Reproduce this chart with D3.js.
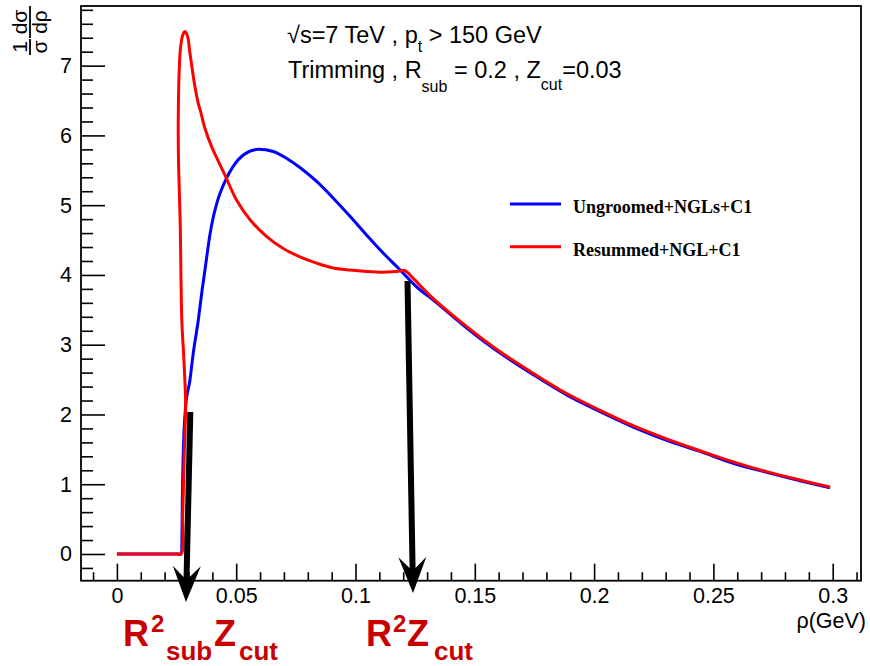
<!DOCTYPE html>
<html><head><meta charset="utf-8">
<script src="https://cdn.jsdelivr.net/npm/d3@7/dist/d3.min.js"></script>
<style>body{margin:0;background:#fff}svg{display:block}</style>
</head><body>
<script>
// ---- data ----
const blueRho = [0, 0.01, 0.02, 0.025, 0.0269, 0.0272, 0.0274, 0.0278, 0.0288, 0.0306, 0.0320, 0.0341, 0.0357, 0.0369, 0.0390, 0.0404, 0.0418, 0.0457, 0.0488, 0.0530, 0.0593, 0.0655, 0.0712, 0.0767, 0.0837, 0.0907, 0.0977, 0.1047, 0.1117, 0.1187, 0.1215, 0.1256, 0.1326, 0.1466, 0.1606, 0.1745, 0.1885, 0.2025, 0.2164, 0.2304, 0.2444, 0.2583, 0.2723, 0.2863, 0.2989];
const blueVal = [0, 0, 0, 0, 0, 0.06, 0.73, 1.44, 2.11, 2.49, 2.88, 3.35, 3.78, 4.07, 4.58, 4.83, 5.02, 5.37, 5.56, 5.72, 5.80, 5.77, 5.67, 5.54, 5.34, 5.10, 4.84, 4.57, 4.31, 4.07, 3.97, 3.83, 3.64, 3.24, 2.88, 2.57, 2.28, 2.04, 1.82, 1.63, 1.47, 1.30, 1.17, 1.05, 0.95];
const redRho = [0, 0.01, 0.02, 0.025, 0.0269, 0.0276, 0.0282, 0.0288, 0.0286, 0.0279, 0.0272, 0.0265, 0.0259, 0.0257, 0.0258, 0.0261, 0.0267, 0.0276, 0.0285, 0.0296, 0.0306, 0.0327, 0.0341, 0.0351, 0.0369, 0.0397, 0.0425, 0.0453, 0.0502, 0.0558, 0.0628, 0.0697, 0.0767, 0.0837, 0.0907, 0.0977, 0.1047, 0.1117, 0.1173, 0.1207, 0.1242, 0.1326, 0.1466, 0.1606, 0.1745, 0.1885, 0.2025, 0.2164, 0.2304, 0.2444, 0.2583, 0.2723, 0.2863, 0.2989];
const redVal = [0, 0, 0, 0, 0, 0.6, 1.4, 2.11, 2.4, 2.9, 3.35, 4.79, 5.50, 6.00, 6.50, 6.93, 7.27, 7.44, 7.49, 7.42, 7.18, 6.70, 6.46, 6.34, 6.10, 5.84, 5.63, 5.43, 5.07, 4.79, 4.55, 4.38, 4.26, 4.17, 4.10, 4.07, 4.05, 4.04, 4.05, 4.06, 3.95, 3.66, 3.26, 2.90, 2.59, 2.30, 2.06, 1.84, 1.65, 1.48, 1.32, 1.18, 1.06, 0.96];
const seriesNames = ["Ungroomed+NGLs+C1", "Resummed+NGL+C1"];
const seriesColors = ["#0000ff", "#ff0000"];
const xMajorTicks = [0, 0.05, 0.1, 0.15, 0.2, 0.25, 0.3];
const xTickLabels = ["0", "0.05", "0.1", "0.15", "0.2", "0.25", "0.3"];
const yMajorTicks = [0, 1, 2, 3, 4, 5, 6, 7];
const yTickLabels = ["0", "1", "2", "3", "4", "5", "6", "7"];
const arrowFromRho = [0.03076, 0.12179];
const arrowFromVal = [2.036, 3.913];
const arrowToRho = [0.02896, 0.12410];
const arrowToVal = [-0.688, -0.559];

// ---- layout ----
const W = 870, H = 666;
const L = 81, R = 861, T = 6, B = 580.7;
const svg = d3.select("body").append("svg").attr("width", W).attr("height", H)
  .style("font-family", "'Liberation Sans', Arial, sans-serif");

const x = d3.scaleLinear().domain([-0.01505, 0.31186]).range([L, R]);
const y = d3.scaleLinear().domain([-0.3828, 7.855]).range([B, T]);

// minor ticks
const xMinor = d3.range(-1, 32).map(i => i / 100).filter(v => Math.abs(Math.round(v * 20) - v * 20) > 1e-6 && v > -0.015 && v < 0.3118);
const yMinor = d3.range(-1, 40).map(i => i / 5).filter(v => Math.abs(Math.round(v) - v) > 1e-6 && v > -0.38 && v < 7.85);

function styleAxis(g) {
  g.select(".domain").remove();
  g.selectAll("line").attr("stroke", "#000").attr("stroke-width", 1.6);
}
svg.append("g").attr("transform", `translate(0,${B})`)
  .call(d3.axisBottom(x).tickValues(xMinor).tickSize(-8.5).tickFormat(""))
  .call(styleAxis);
const gx = svg.append("g").attr("transform", `translate(0,${B})`)
  .call(d3.axisBottom(x).tickValues(xMajorTicks).tickSize(-17).tickPadding(7)
    .tickFormat((d, i) => xTickLabels[i]))
  .call(styleAxis);
gx.selectAll("text").attr("font-size", 21.5).attr("fill", "#000")
  .attr("font-family", "'Liberation Sans', Arial, sans-serif");

svg.append("g").attr("transform", `translate(${L},0)`)
  .call(d3.axisLeft(y).tickValues(yMinor).tickSize(-12).tickFormat(""))
  .call(styleAxis);
const gy = svg.append("g").attr("transform", `translate(${L},0)`)
  .call(d3.axisLeft(y).tickValues(yMajorTicks).tickSize(-24).tickPadding(9)
    .tickFormat((d, i) => yTickLabels[i]))
  .call(styleAxis);
gy.selectAll("text").attr("font-size", 21.5).attr("fill", "#000")
  .attr("font-family", "'Liberation Sans', Arial, sans-serif");

// frame
svg.append("rect").attr("x", L).attr("y", T).attr("width", R - L).attr("height", B - T)
  .attr("fill", "none").attr("stroke", "#000").attr("stroke-width", 1.8);

// curves
const blueLine = d3.line().x(d => x(d[0])).y(d => y(d[1])).curve(d3.curveMonotoneX);
const redLine = d3.line().x(d => x(d[0])).y(d => y(d[1])).curve(d3.curveCatmullRom.alpha(0.5));
const blueData = blueRho.map((r, i) => [r, blueVal[i]]);
const redData = redRho.map((r, i) => [r, redVal[i]]);
svg.append("path").attr("d", blueLine(blueData)).attr("fill", "none")
  .attr("stroke", seriesColors[0]).attr("stroke-width", 3).attr("stroke-linejoin", "round");
svg.append("path").attr("d", redLine(redData)).attr("fill", "none")
  .attr("stroke", seriesColors[1]).attr("stroke-width", 3).attr("stroke-linejoin", "round");

// legend
const legY = [204, 246.7], legBase = [213, 256];
seriesNames.forEach((n, i) => {
  svg.append("line").attr("x1", 510).attr("x2", 561).attr("y1", legY[i]).attr("y2", legY[i])
    .attr("stroke", seriesColors[i]).attr("stroke-width", 3);
  svg.append("text").attr("x", 573).attr("y", legBase[i]).text(n)
    .attr("font-family", "'Liberation Serif', 'Times New Roman', serif")
    .attr("font-weight", "bold").attr("font-size", 18).attr("fill", "#000");
});

// top annotation text
const t1 = svg.append("text").attr("x", 287).attr("y", 43).attr("font-size", 23.5).attr("fill", "#000");
t1.append("tspan").text("√s=7 TeV , p");
t1.append("tspan").attr("font-size", 16).attr("dy", 9).text("t");
t1.append("tspan").attr("dy", -9).text(" > 150 GeV");
const t2 = svg.append("text").attr("x", 288).attr("y", 78).attr("font-size", 23.5).attr("fill", "#000");
t2.append("tspan").text("Trimming , R");
t2.append("tspan").attr("font-size", 16).attr("dy", 14).text("sub");
t2.append("tspan").attr("dy", -14).text(" = 0.2 , Z");
t2.append("tspan").attr("font-size", 16).attr("dy", 12).text("cut");
t2.append("tspan").attr("dy", -12).text("=0.03");

// axis titles
svg.append("text").attr("x", 866).attr("y", 628).attr("text-anchor", "end")
  .attr("font-size", 21.5).attr("fill", "#000").text("ρ(GeV)");
const yt = svg.append("g").attr("transform", "rotate(-90)");
const ytFs = 21;
yt.append("text").attr("x", -47).attr("y", 27).attr("text-anchor", "middle").attr("font-size", ytFs).text("1");
yt.append("text").attr("x", -47).attr("y", 47).attr("text-anchor", "middle").attr("font-size", ytFs).text("σ");
yt.append("line").attr("x1", -55).attr("x2", -39).attr("y1", 30).attr("y2", 30).attr("stroke", "#000").attr("stroke-width", 1.8);
yt.append("text").attr("x", -22).attr("y", 27).attr("text-anchor", "middle").attr("font-size", ytFs).text("dσ");
yt.append("text").attr("x", -22).attr("y", 47).attr("text-anchor", "middle").attr("font-size", ytFs).text("dρ");
yt.append("line").attr("x1", -38).attr("x2", -6).attr("y1", 30).attr("y2", 30).attr("stroke", "#000").attr("stroke-width", 1.8);

// arrows
arrowFromRho.forEach((r, i) => {
  const x0 = x(r), y0 = y(arrowFromVal[i]), x1 = x(arrowToRho[i]), y1 = y(arrowToVal[i]);
  const dx = x1 - x0, dy = y1 - y0, len = Math.hypot(dx, dy);
  const ux = dx / len, uy = dy / len, px = -uy, py = ux;
  const hl = 36, hw = 14, notch = 22;
  const bx = x1 - ux * hl, by = y1 - uy * hl;
  const nx = x1 - ux * notch, ny = y1 - uy * notch;
  svg.append("line").attr("x1", x0).attr("y1", y0).attr("x2", nx).attr("y2", ny)
    .attr("stroke", "#000").attr("stroke-width", 6);
  svg.append("path").attr("d", `M${x1},${y1}L${bx + px * hw},${by + py * hw}L${nx},${ny}L${bx - px * hw},${by - py * hw}Z`)
    .attr("fill", "#000");
});

// R^2 labels
const red = "#c80000";
function lab(parts) {
  const t = svg.append("text").attr("font-weight", "bold").attr("fill", red);
  parts.forEach(p => t.append("tspan").attr("x", p[0]).attr("y", p[1]).attr("font-size", p[2]).text(p[3]));
}
lab([[123, 646, 36, "R"], [151, 632, 24, "2"], [166, 660, 26, "sub"], [214, 646, 36, "Z"], [239, 660, 26, "cut"]]);
lab([[366, 646, 36, "R"], [393, 632, 24, "2"], [407, 646, 36, "Z"], [434, 660, 26, "cut"]]);
</script>
</body></html>
